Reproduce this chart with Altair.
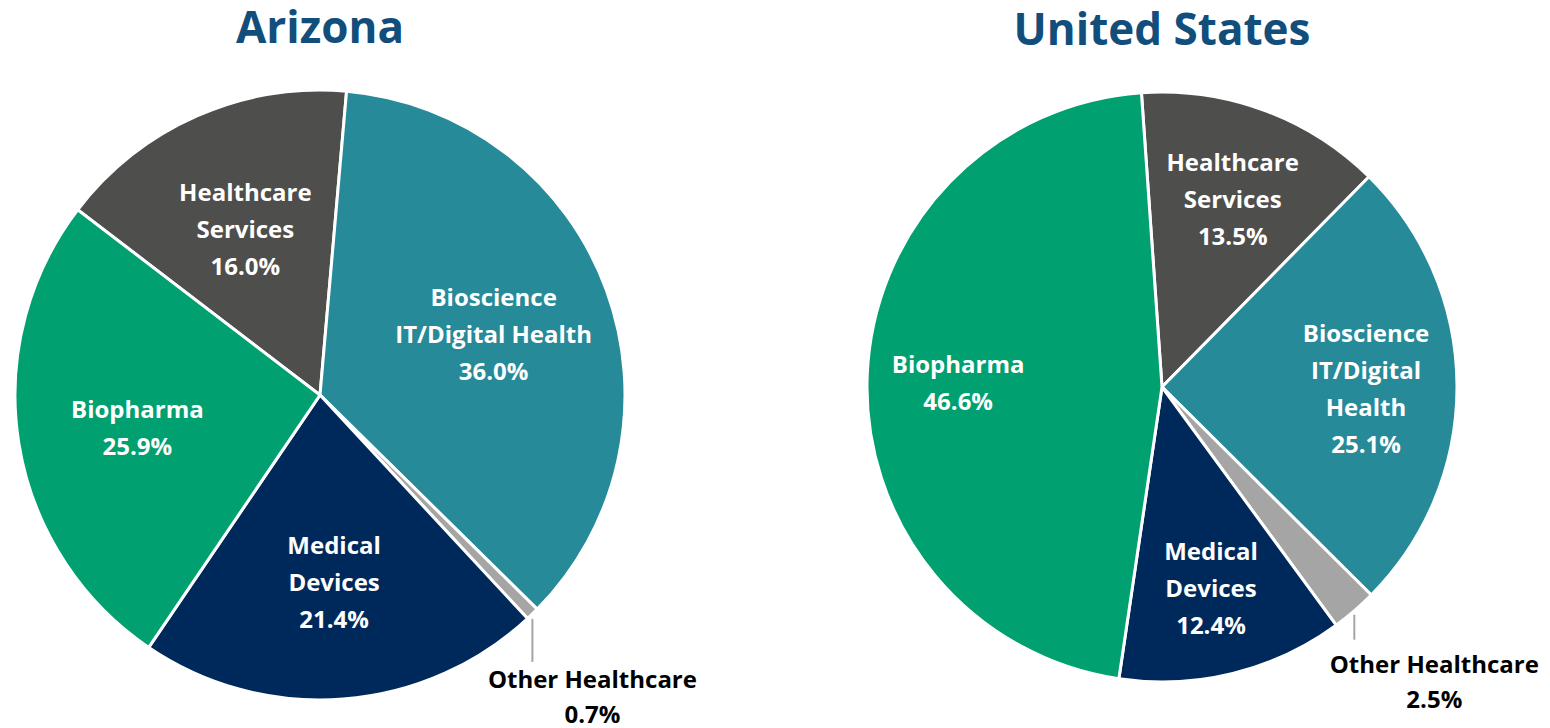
import math
import altair as alt
import pandas as pd

# ---- data ----
categories = ["Healthcare Services", "Bioscience IT/Digital Health",
              "Other Healthcare", "Medical Devices", "Biopharma"]
az_values = [16.0, 36.0, 0.7, 21.4, 25.9]
us_values = [13.5, 25.1, 2.5, 12.4, 46.6]
az_label_names = ["Healthcare\nServices", "Bioscience\nIT/Digital Health",
                  "Other Healthcare", "Medical\nDevices", "Biopharma"]
us_label_names = ["Healthcare\nServices", "Bioscience\nIT/Digital\nHealth",
                  "Other Healthcare", "Medical\nDevices", "Biopharma"]
colors = ["#4E4E4C", "#278A99", "#A5A5A5", "#00295B", "#00A070"]

FONT = "Open Sans"
TITLE_COLOR = "#124E7C"
LINE_H = 37


def make_frame(values, names, off_deg, R, label_r):
    rows = []
    acc = 0.0
    total = sum(values)
    for cat, v, nm in zip(categories, values, names):
        start = acc
        end = acc + v
        acc = end
        mid = (start + end) / 2
        ang = math.radians(off_deg) + mid / total * 2 * math.pi
        label = f"{nm}\n{v:.1f}%"
        nlines = label.count("\n") + 1
        rows.append({
            "cat": cat, "value": v, "start": start, "end": end, "mid": mid,
            "label": label,
            "px": R * math.sin(ang), "py": -R * math.cos(ang),
            "lx": label_r * math.sin(ang),
            "ly": -label_r * math.cos(ang) - (nlines - 1) * LINE_H / 2,
        })
    return pd.DataFrame(rows), total


def panel(title, values, names, off_deg, R, label_r, W, H,
          lead_gap, lead_len, lab_dx, lab_dy):
    df, total = make_frame(values, names, off_deg, R, label_r)
    df["ly1"] = df["py"] + lead_gap
    df["ly2"] = df["py"] + lead_gap + lead_len
    off = math.radians(off_deg)
    tscale = alt.Scale(domain=[0, total], range=[off, off + 2 * math.pi])
    xs = alt.Scale(domain=[-W / 2, W / 2], nice=False, zero=False)
    ys = alt.Scale(domain=[-H / 2, H / 2], nice=False, zero=False, reverse=True)
    base = alt.Chart(df)

    arcs = base.mark_arc(radius=R, stroke="white", strokeWidth=3).encode(
        theta=alt.Theta("start:Q", stack=None, scale=tscale),
        theta2="end:Q",
        color=alt.Color("cat:N", scale=alt.Scale(domain=categories, range=colors),
                        legend=None),
    )
    inside = base.transform_filter(alt.datum.cat != "Other Healthcare").mark_text(
        font=FONT, fontWeight="bold", fontSize=24, color="white",
        lineBreak="\n", lineHeight=LINE_H, align="center", baseline="middle",
        dy=5,
    ).encode(
        x=alt.X("lx:Q", scale=xs, axis=None),
        y=alt.Y("ly:Q", scale=ys, axis=None),
        text="label:N",
    )
    other = base.transform_filter(alt.datum.cat == "Other Healthcare")
    leader = other.mark_rule(color="#A5A5A5", strokeWidth=2).encode(
        x=alt.X("px:Q", scale=xs, axis=None),
        y=alt.Y("ly1:Q", scale=ys, axis=None),
        y2="ly2:Q",
    )
    olabel = other.mark_text(
        font=FONT, fontWeight="bold", fontSize=24, color="black",
        lineBreak="\n", lineHeight=35, align="center", baseline="top",
        dx=lab_dx, dy=lab_dy,
    ).encode(
        x=alt.X("px:Q", scale=xs, axis=None),
        y=alt.Y("ly2:Q", scale=ys, axis=None),
        text="label:N",
    )
    return alt.layer(arcs, inside, leader, olabel).properties(
        width=W, height=H,
        title=alt.TitleParams(title, font=FONT, fontSize=44, fontWeight="bold",
                              color=TITLE_COLOR, anchor="middle", offset=32,
                              frame="group"),
    )


az = panel("Arizona", az_values, az_label_names, -52.6, 305, 185, 624, 610,
           5, 43, 60, 7)
us = panel("United States", us_values, us_label_names, -4.0, 295, 204, 640, 594,
           4, 25, 80, 14)

chart = alt.hconcat(az, us, spacing=210, bounds="flush").properties(
    padding=0
).configure_view(stroke=None)

chart.save("out.html", embed_options={"renderer": "svg", "actions": False})
